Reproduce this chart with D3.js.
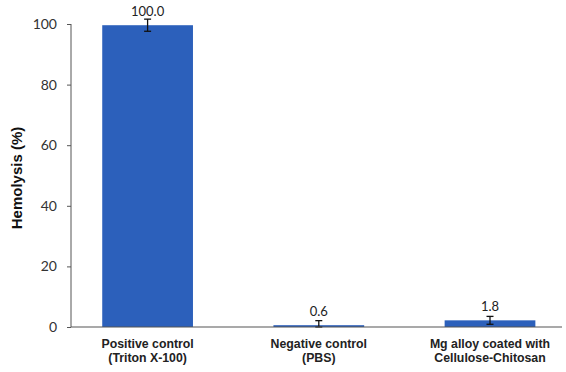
<!DOCTYPE html>
<html>
<head>
<meta charset="utf-8">
<script src="https://cdn.jsdelivr.net/npm/d3@7"></script>
<style>
  body { margin: 0; background: #fff; }
  svg { display: block; }
</style>
</head>
<body>
<div id="chart"></div>
<script>
//Data
const categories = [
  ["Positive control", "(Triton X-100)"],
  ["Negative control", "(PBS)"],
  ["Mg alloy coated with", "Cellulose-Chitosan"]
];
const values = [99.6, 0.6, 2.2];
const valueLabels = ["100.0", "0.6", "1.8"];
const errors = [2.0, 1.5, 1.3];
const yTicks = [0, 20, 40, 60, 80, 100];

//Svg size
const c_width = 566;
const c_height = 372;

const svg = d3.select("#chart")
              .append("svg")
              .attr("width", c_width)
              .attr("height", c_height);

//Scales
const yScale = d3.scaleLinear()
                 .domain([0, 100])
                 .range([327, 24]);

const xScale = d3.scaleBand()
                 .domain(d3.range(categories.length))
                 .range([62, 575.6])
                 .paddingInner(0.47)
                 .paddingOuter(0.235);

const barColor = "#2c60bb";

//Bars
svg.selectAll(".bar")
   .data(values)
   .enter()
   .append("rect")
   .attr("class", "bar")
   .attr("x", (d, i) => xScale(i))
   .attr("y", d => yScale(d))
   .attr("width", xScale.bandwidth())
   .attr("height", d => yScale(0) - yScale(d))
   .attr("fill", barColor);

//Error bars
const errG = svg.append("g")
                .attr("stroke", "#111")
                .attr("stroke-width", 1.3);
values.forEach((v, i) => {
  const cx = xScale(i) + xScale.bandwidth() / 2;
  const top = yScale(v + errors[i]);
  const bot = yScale(Math.max(0, v - errors[i]));
  errG.append("line").attr("x1", cx).attr("x2", cx).attr("y1", top).attr("y2", bot);
  errG.append("line").attr("x1", cx - 3.5).attr("x2", cx + 3.5).attr("y1", top).attr("y2", top);
  errG.append("line").attr("x1", cx - 3.5).attr("x2", cx + 3.5).attr("y1", bot).attr("y2", bot);
});

//Value labels
svg.selectAll(".val")
   .data(values)
   .enter()
   .append("text")
   .attr("class", "val")
   .attr("x", (d, i) => xScale(i) + xScale.bandwidth() / 2)
   .attr("y", d => yScale(d) - 9.5)
   .attr("text-anchor", "middle")
   .style("font-family", "Lato, 'Open Sans', sans-serif")
   .style("font-size", "13px")
   .attr("fill", "#222")
   .text((d, i) => valueLabels[i]);

//Y axis
const yAxis = d3.axisLeft(yScale)
                .tickValues(yTicks)
                .tickSize(4)
                .tickFormat(d3.format("d"));

const yG = svg.append("g")
              .attr("transform", "translate(71,0)")
              .call(yAxis);
yG.select(".domain").attr("stroke", "#555").attr("d", "M0," + yScale(100) + "V" + yScale(0));
yG.selectAll(".tick line").attr("stroke", "#555");
yG.selectAll(".tick text")
  .attr("x", -14)
  .attr("fill", "#333")
  .style("font-family", "Lato, 'Open Sans', sans-serif")
  .style("font-size", "14px");

//X axis line
svg.append("line")
   .attr("x1", 71)
   .attr("x2", 562)
   .attr("y1", yScale(0))
   .attr("y2", yScale(0))
   .attr("stroke", "#555")
   .attr("stroke-width", 1.2);

//Category labels
const catText = svg.selectAll(".cat")
                   .data(categories)
                   .enter()
                   .append("text")
                   .attr("class", "cat")
                   .attr("text-anchor", "middle")
                   .attr("fill", "#222")
                   .style("font-family", "'Liberation Sans', Arial, sans-serif")
                   .style("font-weight", "bold")
                   .style("font-size", "12.3px");
catText.each(function(d, i) {
  const cx = xScale(i) + xScale.bandwidth() / 2;
  d3.select(this).selectAll("tspan")
    .data(d)
    .enter()
    .append("tspan")
    .attr("x", cx)
    .attr("y", (t, j) => 347.5 + j * 14.5)
    .text(t => t);
});

//Y title
svg.append("text")
   .attr("transform", "translate(22," + 178 + ") rotate(-90)")
   .attr("text-anchor", "middle")
   .attr("fill", "#111")
   .style("font-family", "'Liberation Sans', Arial, sans-serif")
   .style("font-weight", "bold")
   .style("font-size", "15px")
   .text("Hemolysis (%)");
</script>
</body>
</html>
